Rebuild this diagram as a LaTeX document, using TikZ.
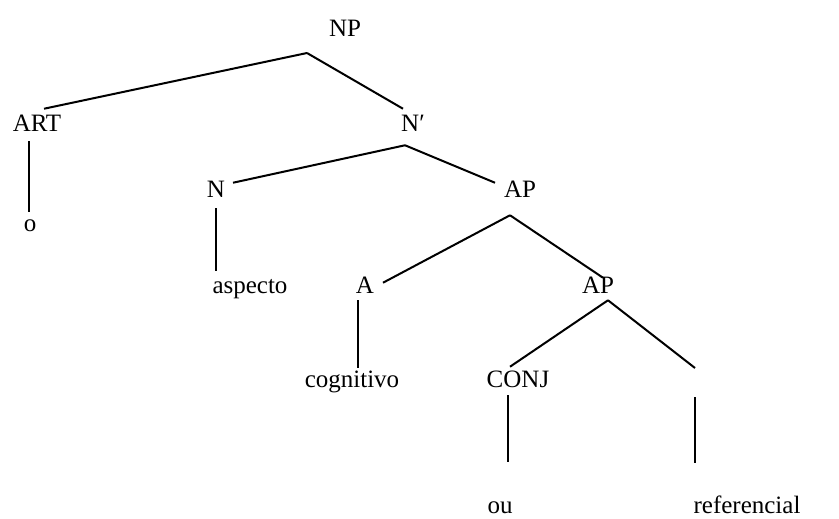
\documentclass[tikz,border=0pt]{standalone}
\usepackage{fontspec}
\setmainfont{Liberation Serif}
\tikzset{
	lbl/.style={anchor=base, inner xsep=0pt, inner ysep=3.75pt, text height=12.75pt, text depth=0pt, font=\fontsize{18.75}{22}\selectfont},
	ast/.style={line width=1.5pt}
}
\begin{document}
\begin{tikzpicture}[x=0.75pt, y=-0.75pt]
		\useasboundingbox (0, 0) rectangle (839, 518);
		% Knoten
		\begin{scope}
			\node [lbl] (np) at (345, 36) {NP};
			\node [lbl] (art) at (37, 131) {ART};
			\node [lbl] (nbar) at (413, 131) {N′};
			\node [lbl] (o) at (30, 231) {o};
			\node [lbl] (n) at (216, 197) {N};
			\node [lbl] (ap) at (520, 197) {AP};
			\node [lbl] (aspecto) at (250, 293) {aspecto};
			\node [lbl] (a) at (365, 293) {A};
			\node [lbl] (apb) at (598, 293) {AP};
			\node [lbl] (cognitivo) at (352, 387) {cognitivo};
			\node [lbl] (conj) at (518, 387) {CONJ};
			\node [lbl] (ou) at (500, 513) {ou};
			\node [lbl] (referencial) at (747, 513) {referencial};
			\coordinate (blank) at (695, 368);
		\end{scope}
		% Verzweigungen
		\coordinate (npfork) at (307, 53);
		\coordinate (nbarfork) at ([shift={(-8, 9)}]nbar.south);
		\coordinate (apfork) at ([shift={(-10, 13)}]ap.south);
		\coordinate (apbfork) at ([shift={(10, 2)}]apb.south);
		% Linien
		\draw [ast] (npfork) -- ([shift={(7, 0)}]art.north);
		\draw [ast] (npfork) -- ([shift={(-10, 0)}]nbar.north);
		\draw [ast] ([shift={(-8, 5)}]art.south) -- ([shift={(-1, 3)}]o.north);
		\draw [ast] (nbarfork) -- ([shift={(17, 8)}]n.north);
		\draw [ast] (nbarfork) -- ([shift={(-25, 8)}]ap.north);
		\draw [ast] ([shift={(0, 6)}]n.south) -- (n.south |- aspecto.north);
		\draw [ast] (apfork) -- ([shift={(18, 12)}]a.north);
		\draw [ast] (apfork) -- ([shift={(5, 7)}]apb.north);
		\draw [ast] ([shift={(-7, 2)}]a.south) -- ([shift={(6, 3)}]cognitivo.north);
		\draw [ast] (apbfork) -- ([shift={(-8, 2)}]conj.north);
		\draw [ast] (apbfork) -- (blank);
		\draw [ast] ([shift={(-10, 3)}]conj.south) --++ (0, 67);
		\draw [ast] ([shift={(0, 29)}]blank) --++ (0, 66);
	\end{tikzpicture}
\end{document}
